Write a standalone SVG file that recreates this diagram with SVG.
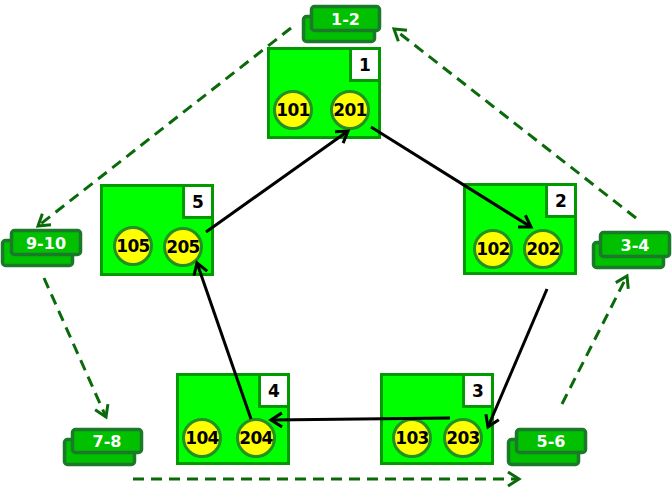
<svg xmlns="http://www.w3.org/2000/svg" width="672" height="493" viewBox="0 0 672 493">
<defs>
<style>
.box{fill:#00ff00;stroke:#009a00;stroke-width:3}
.num{fill:#ffffff;stroke:#009a00;stroke-width:3}
.numt{font-family:"DejaVu Sans",Verdana,sans-serif;font-weight:bold;font-size:17px;fill:#000;text-anchor:middle}
.c{fill:#ffff00;stroke:#229022;stroke-width:3}
.ct{font-family:"DejaVu Sans",Verdana,sans-serif;font-weight:bold;font-size:17px;fill:#000;text-anchor:middle;letter-spacing:-0.6px}
.lb{fill:#00c000;stroke:#1a7a2a;stroke-width:3.5}
.lt{font-family:"DejaVu Sans",Verdana,sans-serif;font-weight:bold;font-size:16px;fill:#ffffff;text-anchor:middle}
.solid{stroke:#000;stroke-width:3;fill:none;marker-end:url(#ah)}
.dash{stroke:#0a6a0a;stroke-width:3;fill:none;stroke-dasharray:11 7;marker-end:url(#dh)}
</style>
<marker id="ah" markerUnits="userSpaceOnUse" markerWidth="18" markerHeight="18" refX="13" refY="8" orient="auto" viewBox="0 0 18 16">
<path d="M2,1 L13,8 L2,15" fill="none" stroke="#000" stroke-width="3"/>
</marker>
<marker id="dh" markerUnits="userSpaceOnUse" markerWidth="18" markerHeight="18" refX="13" refY="8" orient="auto" viewBox="0 0 18 16">
<path d="M2,1 L13,8 L2,15" fill="none" stroke="#0a6a0a" stroke-width="3"/>
</marker>
</defs>
<rect width="672" height="493" fill="#ffffff"/>

<g id="node1">
<rect class="box" x="268.5" y="48.5" width="111" height="89"/>
<rect class="num" x="350.5" y="48.5" width="29" height="32"/>
<text class="numt" x="365" y="71">1</text>
<circle class="c" cx="293" cy="110" r="18.5"/>
<text class="ct" x="293" y="116">101</text>
<circle class="c" cx="350" cy="110" r="18.5"/>
<text class="ct" x="350" y="116">201</text>
</g>

<g id="node2">
<rect class="box" x="464.5" y="184.5" width="111" height="89"/>
<rect class="num" x="546.5" y="184.5" width="29" height="32"/>
<text class="numt" x="561" y="207">2</text>
<circle class="c" cx="493" cy="249" r="18.5"/>
<text class="ct" x="493" y="255">102</text>
<circle class="c" cx="543" cy="249" r="18.5"/>
<text class="ct" x="543" y="255">202</text>
</g>

<g id="node3">
<rect class="box" x="381.5" y="374.5" width="111" height="89"/>
<rect class="num" x="463.5" y="374.5" width="29" height="32"/>
<text class="numt" x="478" y="397">3</text>
<circle class="c" cx="412" cy="438" r="18.5"/>
<text class="ct" x="412" y="444">103</text>
<circle class="c" cx="463" cy="438" r="18.5"/>
<text class="ct" x="463" y="444">203</text>
</g>

<g id="node4">
<rect class="box" x="177.5" y="374.5" width="111" height="89"/>
<rect class="num" x="259.5" y="374.5" width="29" height="32"/>
<text class="numt" x="274" y="397">4</text>
<circle class="c" cx="202" cy="438" r="18.5"/>
<text class="ct" x="202" y="444">104</text>
<circle class="c" cx="256" cy="438" r="18.5"/>
<text class="ct" x="256" y="444">204</text>
</g>

<g id="node5">
<rect class="box" x="101.5" y="185.5" width="111" height="89"/>
<rect class="num" x="183.5" y="185.5" width="29" height="32"/>
<text class="numt" x="198" y="208">5</text>
<circle class="c" cx="133" cy="246" r="18.5"/>
<text class="ct" x="133" y="252">105</text>
<circle class="c" cx="183" cy="247" r="18.5"/>
<text class="ct" x="183" y="253">205</text>
</g>

<g id="label1-2">
<rect class="lb" x="303.5" y="16.5" width="71" height="25" rx="3"/>
<rect class="lb" x="311.5" y="6.5" width="68" height="24" rx="3"/>
<text class="lt" x="345.5" y="24.5">1-2</text>
</g>
<g id="label3-4">
<rect class="lb" x="593.5" y="242.5" width="70" height="25" rx="3"/>
<rect class="lb" x="600.5" y="232.5" width="69" height="24" rx="3"/>
<text class="lt" x="635" y="250.5">3-4</text>
</g>
<g id="label5-6">
<rect class="lb" x="508.5" y="439.5" width="70" height="25" rx="3"/>
<rect class="lb" x="516.5" y="429.5" width="69" height="23" rx="3"/>
<text class="lt" x="551" y="447">5-6</text>
</g>
<g id="label7-8">
<rect class="lb" x="64.5" y="439.5" width="70" height="25" rx="3"/>
<rect class="lb" x="72.5" y="429.5" width="69" height="23" rx="3"/>
<text class="lt" x="107" y="447">7-8</text>
</g>
<g id="label9-10">
<rect class="lb" x="2.5" y="240.5" width="70" height="25" rx="3"/>
<rect class="lb" x="11.5" y="230.5" width="69" height="24" rx="3"/>
<text class="lt" x="46" y="248.5">9-10</text>
</g>

<g id="connectors">
<line class="solid" x1="206" y1="232" x2="348" y2="131"/>
<line class="solid" x1="371" y1="127" x2="531" y2="227"/>
<line class="solid" x1="547" y1="289" x2="488" y2="427"/>
<line class="solid" x1="450" y1="418" x2="271" y2="420"/>
<line class="solid" x1="251" y1="419" x2="197" y2="263"/>
<line class="dash" x1="291" y1="28" x2="38" y2="226"/>
<line class="dash" x1="44" y1="278" x2="106" y2="417"/>
<line class="dash" x1="133" y1="479" x2="519" y2="479"/>
<line class="dash" x1="562" y1="404" x2="627" y2="276"/>
<line class="dash" x1="636" y1="218" x2="394" y2="29"/>
</g>
</svg>
